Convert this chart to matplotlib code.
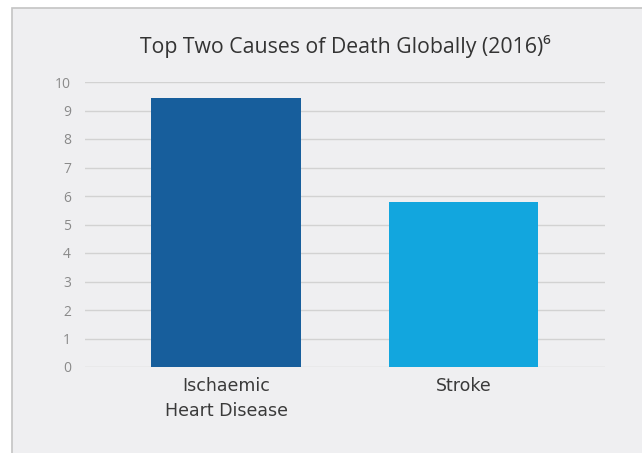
import matplotlib
matplotlib.use("Agg")
import matplotlib.pyplot as plt
from matplotlib.patches import Rectangle

categories = ["Ischaemic\nHeart Disease", "Stroke"]
deaths = [9.43, 5.78]  # millions
bar_colors = ["#175e9c", "#12a6de"]
yticks = list(range(0, 11))

plt.rcParams['font.family'] = ['Open Sans', 'DejaVu Sans']

fig = plt.figure(figsize=(6.42, 4.53), dpi=100)
fig.patch.set_facecolor("white")

# gray panel behind the chart
panel = Rectangle((12/642, -0.01), 1.0, 1 - 8/453 + 0.01,
                  transform=fig.transFigure, facecolor="#efeff1",
                  edgecolor="#c4c4c4", linewidth=1.2, zorder=-10)
fig.add_artist(panel)

ax = fig.add_axes([85/642, 1 - 367/453, 520/642, (367 - 82)/453])
ax.set_facecolor("none")

x = range(len(categories))
ax.bar(x, deaths, width=0.63, color=bar_colors, zorder=3)

ax.set_ylim(0, 10)
ax.set_xlim(-0.594, 1.596)
ax.set_yticks(yticks)
ax.yaxis.grid(True, color="#d2d2d2", linewidth=1)
ax.set_axisbelow(True)
for s in ax.spines.values():
    s.set_visible(False)
ax.tick_params(axis="y", length=0, pad=10, labelsize=10, labelcolor="#8a8a8a")
ax.tick_params(axis="x", length=0, pad=7, labelcolor="#3a3a3a")
ax.set_xticks(list(x))
ax.set_xticklabels(categories, linespacing=1.5, family="DejaVu Sans", fontsize=12.5)

fig.text(345/642, 1 - 46/453, "Top Two Causes of Death Globally (2016)\u2076",
         ha="center", va="center", fontsize=15.3, color="#333333")

fig.savefig("out.png", dpi=100, facecolor=fig.get_facecolor())
